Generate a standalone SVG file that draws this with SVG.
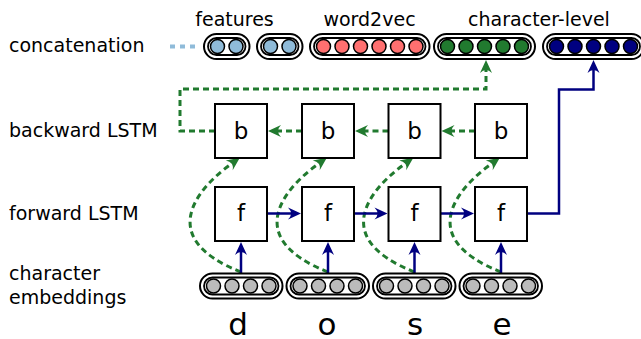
<svg xmlns="http://www.w3.org/2000/svg" width="641" height="339" viewBox="0 0 641 339">
  <style>
    text { font-family: "DejaVu Sans", "Liberation Sans", sans-serif; fill: #000; }
    .lbl { font-size: 19px; }
    .cell { font-size: 23px; text-anchor: middle; }
    .chr { font-size: 31px; text-anchor: middle; }
    .box { fill: #fff; stroke: #000; stroke-width: 2; }
    .po { fill: #fff; stroke: #000; stroke-width: 2; }
    .pi { fill: #fff; stroke: #000; stroke-width: 1.8; }
    .dot { stroke: #000; stroke-width: 1.5; }
    .feat { fill: #8fbbd9; }
    .w2v { fill: #ff7070; }
    .grn { fill: #217a2f; }
    .nav { fill: #000080; }
    .emb { fill: #bbbbbb; }
    .fw { fill: none; stroke: #000080; stroke-width: 2.5; }
    .bw { fill: none; stroke: #217a2f; stroke-width: 3; stroke-dasharray: 6 4; }
  </style>
  <defs>
    <marker id="ah-navy" markerUnits="userSpaceOnUse" viewBox="-5 -7 15 14" refX="0" refY="0" markerWidth="15" markerHeight="14" orient="auto" overflow="visible">
      <path d="M9,0 L-4,-6 Q2,0 -4,6 Z" fill="#000080"/>
    </marker>
    <marker id="ah-green" markerUnits="userSpaceOnUse" viewBox="-5 -7 15 14" refX="0" refY="0" markerWidth="15" markerHeight="14" orient="auto" overflow="visible">
      <path d="M9,0 L-4,-6 Q2,0 -4,6 Z" fill="#217a2f"/>
    </marker>
  </defs>

  <rect width="641" height="339" fill="#fff"/>

  <!-- row labels -->
  <g id="row-labels">
    <text class="lbl" x="9" y="52">concatenation</text>
    <text class="lbl" x="9" y="137">backward LSTM</text>
    <text class="lbl" x="9" y="220">forward LSTM</text>
    <text class="lbl" x="9" y="280">character</text>
    <text class="lbl" x="9" y="304">embeddings</text>
  </g>

  <!-- concatenated word representation -->
  <g id="concat-labels">
    <text class="lbl" x="234.5" y="26" text-anchor="middle">features</text>
    <text class="lbl" x="369.5" y="26" text-anchor="middle">word2vec</text>
    <text class="lbl" x="539" y="26" text-anchor="middle">character-level</text>
  </g>

  <g id="features-1">
    <rect class="po" x="204" y="34" width="45.5" height="25" rx="12.5"/>
    <rect class="pi" x="208" y="38" width="37.5" height="17" rx="8.5"/>
    <circle class="dot feat" cx="217.5" cy="46.5" r="7"/>
    <circle class="dot feat" cx="236" cy="46.5" r="7"/>
  </g>
  <g id="features-2">
    <rect class="po" x="257" y="34" width="45.5" height="25" rx="12.5"/>
    <rect class="pi" x="261" y="38" width="37.5" height="17" rx="8.5"/>
    <circle class="dot feat" cx="270.5" cy="46.5" r="7"/>
    <circle class="dot feat" cx="289" cy="46.5" r="7"/>
  </g>
  <g id="word2vec">
    <rect class="po" x="310" y="34" width="119.5" height="25" rx="12.5"/>
    <rect class="pi" x="314" y="38" width="111.5" height="17" rx="8.5"/>
    <circle class="dot w2v" cx="323.5" cy="46.5" r="7"/>
    <circle class="dot w2v" cx="342" cy="46.5" r="7"/>
    <circle class="dot w2v" cx="360.5" cy="46.5" r="7"/>
    <circle class="dot w2v" cx="379" cy="46.5" r="7"/>
    <circle class="dot w2v" cx="397.5" cy="46.5" r="7"/>
    <circle class="dot w2v" cx="416" cy="46.5" r="7"/>
  </g>
  <g id="char-backward">
    <rect class="po" x="434" y="34" width="101" height="25" rx="12.5"/>
    <rect class="pi" x="438" y="38" width="93" height="17" rx="8.5"/>
    <circle class="dot grn" cx="447.5" cy="46.5" r="7"/>
    <circle class="dot grn" cx="466" cy="46.5" r="7"/>
    <circle class="dot grn" cx="484.5" cy="46.5" r="7"/>
    <circle class="dot grn" cx="503" cy="46.5" r="7"/>
    <circle class="dot grn" cx="521.5" cy="46.5" r="7"/>
  </g>
  <g id="char-forward">
    <rect class="po" x="543" y="34" width="101" height="25" rx="12.5"/>
    <rect class="pi" x="547" y="38" width="93" height="17" rx="8.5"/>
    <circle class="dot nav" cx="556.5" cy="46.5" r="7"/>
    <circle class="dot nav" cx="575" cy="46.5" r="7"/>
    <circle class="dot nav" cx="593.5" cy="46.5" r="7"/>
    <circle class="dot nav" cx="612" cy="46.5" r="7"/>
    <circle class="dot nav" cx="630.5" cy="46.5" r="7"/>
  </g>

  <!-- connectors -->
  <g id="connectors">
    <path d="M170,46.5 H197" fill="none" stroke="#8fbbd9" stroke-width="4" stroke-dasharray="5 5"/>

    <!-- backward chain -->
    <path class="bw" d="M302,131 H277" marker-end="url(#ah-green)"/>
    <path class="bw" d="M388.5,131 H364" marker-end="url(#ah-green)"/>
    <path class="bw" d="M475,131 H450.5" marker-end="url(#ah-green)"/>
    <path class="bw" d="M215,131 H180 V89 H486 V69" marker-end="url(#ah-green)"/>

    <!-- embeddings into backward cells -->
    <path class="bw" d="M241,272 C152,237 200,186 232.5,163" marker-end="url(#ah-green)"/>
    <path class="bw" d="M328,272 C239,237 287,186 319.5,163" marker-end="url(#ah-green)"/>
    <path class="bw" d="M414.5,272 C325.5,237 373.5,186 406,163" marker-end="url(#ah-green)"/>
    <path class="bw" d="M501,272 C412,237 460,186 492.5,163" marker-end="url(#ah-green)"/>

    <!-- forward chain -->
    <path class="fw" d="M267,213.5 H292" marker-end="url(#ah-navy)"/>
    <path class="fw" d="M354,213.5 H378.5" marker-end="url(#ah-navy)"/>
    <path class="fw" d="M440.5,213.5 H465" marker-end="url(#ah-navy)"/>
    <path class="fw" d="M527,213.5 H559 V89.5 H593.5 V69" marker-end="url(#ah-navy)"/>

    <!-- embeddings into forward cells -->
    <path class="fw" d="M241,273 V251" marker-end="url(#ah-navy)"/>
    <path class="fw" d="M328,273 V251" marker-end="url(#ah-navy)"/>
    <path class="fw" d="M414.5,273 V251" marker-end="url(#ah-navy)"/>
    <path class="fw" d="M501,273 V251" marker-end="url(#ah-navy)"/>
  </g>

  <!-- backward LSTM cells -->
  <g id="b1"><rect class="box" x="215" y="104" width="52" height="54"/><text class="cell" x="241" y="139">b</text></g>
  <g id="b2"><rect class="box" x="302" y="104" width="52" height="54"/><text class="cell" x="328" y="139">b</text></g>
  <g id="b3"><rect class="box" x="388.5" y="104" width="52" height="54"/><text class="cell" x="414.5" y="139">b</text></g>
  <g id="b4"><rect class="box" x="475" y="104" width="52" height="54"/><text class="cell" x="501" y="139">b</text></g>

  <!-- forward LSTM cells -->
  <g id="f1"><rect class="box" x="215" y="187" width="52" height="54"/><text class="cell" x="241" y="221">f</text></g>
  <g id="f2"><rect class="box" x="302" y="187" width="52" height="54"/><text class="cell" x="328" y="221">f</text></g>
  <g id="f3"><rect class="box" x="388.5" y="187" width="52" height="54"/><text class="cell" x="414.5" y="221">f</text></g>
  <g id="f4"><rect class="box" x="475" y="187" width="52" height="54"/><text class="cell" x="501" y="221">f</text></g>

  <!-- character embeddings -->
  <g id="emb-d">
    <rect class="po" x="200" y="273.5" width="82.5" height="25" rx="12.5"/>
    <rect class="pi" x="204" y="277.5" width="74.5" height="17" rx="8.5"/>
    <circle class="dot emb" cx="213.5" cy="286" r="7"/>
    <circle class="dot emb" cx="232" cy="286" r="7"/>
    <circle class="dot emb" cx="250.5" cy="286" r="7"/>
    <circle class="dot emb" cx="269" cy="286" r="7"/>
    <text class="chr" x="238" y="335">d</text>
  </g>
  <g id="emb-o">
    <rect class="po" x="286.5" y="273.5" width="82.5" height="25" rx="12.5"/>
    <rect class="pi" x="290.5" y="277.5" width="74.5" height="17" rx="8.5"/>
    <circle class="dot emb" cx="300" cy="286" r="7"/>
    <circle class="dot emb" cx="318.5" cy="286" r="7"/>
    <circle class="dot emb" cx="337" cy="286" r="7"/>
    <circle class="dot emb" cx="355.5" cy="286" r="7"/>
    <text class="chr" x="327" y="335">o</text>
  </g>
  <g id="emb-s">
    <rect class="po" x="373" y="273.5" width="82.5" height="25" rx="12.5"/>
    <rect class="pi" x="377" y="277.5" width="74.5" height="17" rx="8.5"/>
    <circle class="dot emb" cx="386.5" cy="286" r="7"/>
    <circle class="dot emb" cx="405" cy="286" r="7"/>
    <circle class="dot emb" cx="423.5" cy="286" r="7"/>
    <circle class="dot emb" cx="442" cy="286" r="7"/>
    <text class="chr" x="415" y="335">s</text>
  </g>
  <g id="emb-e">
    <rect class="po" x="459.5" y="273.5" width="82.5" height="25" rx="12.5"/>
    <rect class="pi" x="463.5" y="277.5" width="74.5" height="17" rx="8.5"/>
    <circle class="dot emb" cx="473" cy="286" r="7"/>
    <circle class="dot emb" cx="491.5" cy="286" r="7"/>
    <circle class="dot emb" cx="510" cy="286" r="7"/>
    <circle class="dot emb" cx="528.5" cy="286" r="7"/>
    <text class="chr" x="502" y="335">e</text>
  </g>
</svg>
